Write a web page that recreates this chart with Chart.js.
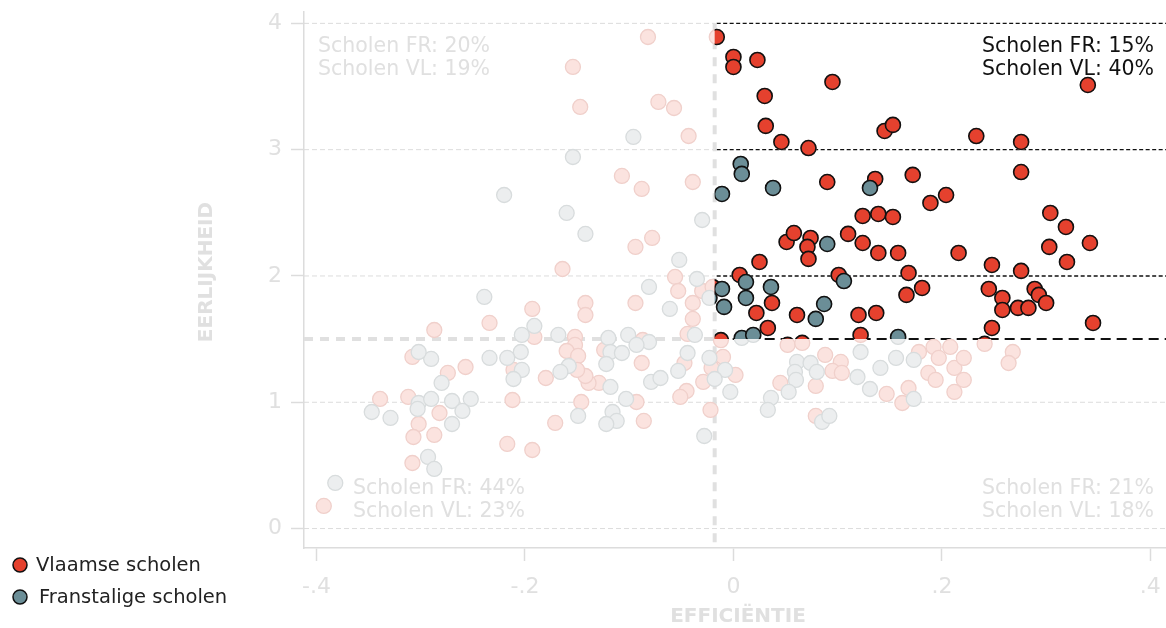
<!DOCTYPE html>
<html><head><meta charset="utf-8">
<script src="https://cdn.jsdelivr.net/npm/chart.js@4"></script>
<style>html,body{margin:0;padding:0;background:#fff;}#wrap{width:1166px;height:628px;position:relative;}</style>
</head><body><div id="wrap"><canvas id="c" width="1166" height="628"></canvas></div>
<script>
// ---- data (efficiëntie, eerlijkheid) ----
const vlaamsePoints = [
 [-0.016,3.892],[0.000,3.734],[0.000,3.655],[0.023,3.710],[0.030,3.425],[0.031,3.188],[0.046,3.061],[0.072,3.013],[0.095,3.536],[0.145,3.148],
 [0.153,3.196],[0.233,3.108],[0.276,3.061],[0.340,3.512],[0.276,2.823],[0.090,2.744],[0.136,2.768],[0.172,2.800],[0.189,2.578],[0.204,2.641],
 [0.304,2.499],[0.124,2.475],[0.139,2.491],[0.153,2.467],[0.319,2.388],[0.303,2.230],[0.342,2.261],[0.320,2.111],[0.051,2.269],[0.058,2.340],
 [0.074,2.301],[0.071,2.230],[0.072,2.135],[0.110,2.333],[0.124,2.261],[0.139,2.182],[0.158,2.182],[0.216,2.182],[0.025,2.111],[0.248,2.087],
 [0.276,2.040],[0.168,2.024],[0.006,2.008],[0.101,2.008],[0.037,1.786],[0.022,1.707],[0.061,1.691],[0.033,1.588],[0.120,1.691],[0.137,1.707],
 [0.166,1.850],[0.181,1.905],[0.245,1.897],[0.258,1.826],[0.258,1.731],[0.273,1.747],[0.283,1.747],[0.289,1.897],[0.293,1.850],[0.300,1.786],
 [0.248,1.588],[0.345,1.628],[0.122,1.533],[-0.012,1.492],
 [-0.082,3.892],[-0.154,3.655],[-0.147,3.338],[-0.072,3.378],[-0.057,3.330],[-0.043,3.108],[-0.107,2.792],[-0.088,2.689],[-0.039,2.744],[-0.094,2.230],
 [-0.078,2.301],[-0.164,2.055],[-0.056,1.992],[-0.053,1.881],[-0.030,1.881],[-0.020,1.913],[-0.142,1.786],[-0.142,1.691],[-0.094,1.786],[-0.039,1.786],
 [-0.039,1.660],[-0.193,1.739],[-0.234,1.628],[-0.287,1.572],[-0.191,1.517],[-0.152,1.517],[-0.087,1.493],[-0.044,1.541],
 [-0.152,1.454],[-0.160,1.406],[-0.149,1.367],[-0.124,1.414],[-0.088,1.311],[-0.047,1.311],[-0.021,1.272],[-0.029,1.161],[-0.045,1.089],[-0.051,1.042],
 [-0.093,1.002],[-0.129,1.153],[-0.139,1.153],[-0.142,1.208],[-0.150,1.256],[-0.180,1.192],[-0.211,1.256],[-0.257,1.279],[-0.274,1.232],[-0.308,1.359],
 [-0.212,1.018],[-0.146,1.002],[-0.339,1.026],[-0.312,1.042],[-0.282,0.915],[-0.302,0.828],[-0.307,0.725],[-0.287,0.741],[-0.308,0.519],[-0.217,0.670],
 [-0.193,0.622],[-0.171,0.836],[-0.086,0.852],[-0.022,0.939],[-0.393,0.179],
 [-0.010,1.359],[0.002,1.216],[0.052,1.454],[0.066,1.470],[0.088,1.375],[0.103,1.319],[0.095,1.248],[0.104,1.232],[0.045,1.153],[0.079,1.129],
 [0.079,0.892],[0.147,1.066],[0.162,0.994],[0.168,1.113],[0.178,1.398],[0.192,1.438],[0.197,1.351],[0.187,1.232],[0.194,1.177],[0.208,1.438],
 [0.212,1.272],[0.221,1.351],[0.212,1.082],[0.221,1.177],[0.241,1.462],[0.268,1.398],[0.264,1.311]
];
const franstaligePoints = [
 [-0.011,2.649],[0.007,2.887],[0.008,2.808],[0.038,2.697],[0.131,2.697],[0.090,2.253],[0.012,1.952],[0.106,1.960],[-0.011,1.897],[0.036,1.913],
 [0.012,1.826],[-0.009,1.755],[0.087,1.778],[0.079,1.660],[0.008,1.509],[0.019,1.533],[0.158,1.517],
 [-0.096,3.101],[-0.154,2.942],[-0.220,2.641],[-0.160,2.499],[-0.030,2.443],[-0.142,2.333],[-0.052,2.127],[-0.035,1.976],[-0.081,1.913],[-0.023,1.826],
 [-0.239,1.834],[-0.061,1.739],[-0.191,1.604],[-0.203,1.533],[-0.168,1.533],[-0.120,1.509],[-0.101,1.533],[-0.081,1.477],[-0.093,1.454],[-0.037,1.533],
 [-0.158,1.287],[-0.118,1.398],[-0.107,1.390],[-0.122,1.303],[-0.044,1.390],[-0.053,1.248],[-0.023,1.351],[-0.079,1.161],[-0.070,1.192],[-0.103,1.026],
 [-0.118,1.121],[-0.166,1.240],[-0.203,1.256],[-0.211,1.184],[-0.204,1.398],[-0.217,1.351],[-0.234,1.351],[-0.280,1.153],[-0.290,1.343],[-0.302,1.398],
 [-0.302,0.994],[-0.303,0.947],[-0.290,1.026],[-0.270,1.010],[-0.252,1.026],[-0.347,0.923],[-0.329,0.876],[-0.260,0.931],[-0.270,0.828],[-0.293,0.567],
 [-0.287,0.472],[-0.149,0.892],[-0.116,0.923],[-0.112,0.852],[-0.122,0.828],[-0.028,0.733],[-0.382,0.361],
 [-0.008,1.256],[-0.018,1.184],[-0.003,1.082],[0.061,1.319],[0.074,1.311],[0.080,1.240],[0.059,1.240],[0.060,1.177],[0.053,1.082],[0.036,1.034],
 [0.033,0.939],[0.085,0.844],[0.092,0.892],[0.122,1.398],[0.119,1.200],[0.141,1.272],[0.131,1.105],[0.156,1.351],[0.173,1.026],[0.173,1.335]
];
const seriesNames = ['Vlaamse scholen', 'Franstalige scholen'];
const xTickValues = [-0.4, -0.2, 0, 0.2, 0.4];
const xTickLabels = ['-.4', '-.2', '0', '.2', '.4'];
const yTickValues = [0, 1, 2, 3, 4];
const xThreshold = -0.018;
const yThreshold = 1.5;
const xTitle = 'EFFICIËNTIE';
const yTitle = 'EERLIJKHEID';
const shareFR = {tl: '20%', tr: '15%', bl: '44%', br: '21%'};
const shareVL = {tl: '19%', tr: '40%', bl: '23%', br: '18%'};

// ---- styling ----
const FONT = '"DejaVu Sans", Verdana, sans-serif';
const LIGHT = '#e0e0e0';
const RED = '#e5412e', BLUE = '#6b8e97';
const RED_F = '#fbe3df', RED_FB = '#f0d0cb';
const BLUE_F = '#eceeef', BLUE_FB = '#d8dcdd';

const toXY = pts => pts.map(p => ({x: p[0], y: p[1]}));

const linesPlugin = {
  id: 'quadLines',
  beforeDatasetsDraw(chart) {
    const {ctx, chartArea: {left, right, top, bottom}, scales: {x, y}} = chart;
    const xv = x.getPixelForValue(xThreshold), yh = y.getPixelForValue(yThreshold);
    ctx.save();
    yTickValues.forEach(v => {
      const py = y.getPixelForValue(v);
      const inQuad = v > yThreshold;
      ctx.setLineDash([5, 3]); ctx.lineWidth = 1; ctx.strokeStyle = '#dcdcdc';
      ctx.beginPath(); ctx.moveTo(left, py); ctx.lineTo(inQuad ? xv : right, py); ctx.stroke();
      if (inQuad) {
        ctx.setLineDash([4, 2.5]); ctx.lineWidth = 1.4; ctx.strokeStyle = '#111';
        ctx.beginPath(); ctx.moveTo(xv + 2, py); ctx.lineTo(right, py); ctx.stroke();
      }
    });
    // horizontal threshold
    ctx.setLineDash([9, 7]); ctx.lineWidth = 4; ctx.strokeStyle = LIGHT;
    ctx.beginPath(); ctx.moveTo(left, yh); ctx.lineTo(xv, yh); ctx.stroke();
    ctx.setLineDash([10, 6]); ctx.lineWidth = 2; ctx.strokeStyle = '#111';
    ctx.beginPath(); ctx.moveTo(xv + 2, yh); ctx.lineTo(right, yh); ctx.stroke();
    // vertical threshold
    ctx.setLineDash([9, 8]); ctx.lineWidth = 4; ctx.strokeStyle = LIGHT;
    ctx.beginPath(); ctx.moveTo(xv, y.getPixelForValue(4)); ctx.lineTo(xv, bottom); ctx.stroke();
    ctx.restore();
  }
};

const clipPlugin = {
  id: 'quadClip',
  beforeDatasetDraw(chart, args) {
    const ds = chart.data.datasets[args.index];
    if (!ds.highlight) return;
    const {ctx, chartArea, scales: {x, y}} = chart;
    const x0 = x.getPixelForValue(xThreshold), y0 = y.getPixelForValue(yThreshold);
    ctx.save();
    ctx.beginPath();
    ctx.rect(x0, chartArea.top - 30, chartArea.right - x0 + 30, y0 - chartArea.top + 30);
    ctx.clip();
  },
  afterDatasetDraw(chart, args) {
    if (chart.data.datasets[args.index].highlight) chart.ctx.restore();
  }
};

const textPlugin = {
  id: 'texts',
  afterDraw(chart) {
    const {ctx, chartArea: {left, right}, scales: {x, y}} = chart;
    const y4 = y.getPixelForValue(4), y0 = y.getPixelForValue(0);
    ctx.save();
    ctx.font = '20.5px ' + FONT;
    ctx.textBaseline = 'middle';
    ctx.fillStyle = LIGHT; ctx.textAlign = 'left';
    ctx.fillText('Scholen FR: ' + shareFR.tl, left + 14, y4 + 23);
    ctx.fillText('Scholen VL: ' + shareVL.tl, left + 14, y4 + 46);
    ctx.fillText('Scholen FR: ' + shareFR.bl, left + 49, y0 - 40);
    ctx.fillText('Scholen VL: ' + shareVL.bl, left + 49, y0 - 17);
    ctx.textAlign = 'right';
    ctx.fillText('Scholen FR: ' + shareFR.br, right - 12, y0 - 40);
    ctx.fillText('Scholen VL: ' + shareVL.br, right - 12, y0 - 17);
    ctx.fillStyle = '#111';
    ctx.fillText('Scholen FR: ' + shareFR.tr, right - 12, y4 + 23);
    ctx.fillText('Scholen VL: ' + shareVL.tr, right - 12, y4 + 46);
    // axis titles
    ctx.fillStyle = LIGHT; ctx.textAlign = 'center';
    ctx.font = 'bold 20px ' + FONT;
    ctx.fillText(xTitle, 738, 617);
    ctx.save(); ctx.translate(207, 272); ctx.rotate(-Math.PI / 2);
    ctx.fillText(yTitle, 0, 0); ctx.restore();
    // legend
    const cols = [RED, BLUE];
    ctx.font = '19.5px ' + FONT; ctx.textAlign = 'left';
    seriesNames.forEach((name, i) => {
      const cy = 565 + i * 32;
      ctx.beginPath(); ctx.arc(20, cy, 7, 0, Math.PI * 2);
      ctx.fillStyle = cols[i]; ctx.fill();
      ctx.lineWidth = 1.5; ctx.strokeStyle = '#111'; ctx.stroke();
      ctx.fillStyle = '#222';
      ctx.fillText(name, 36 + i * 3, cy + 1);
    });
    ctx.restore();
  }
};

Chart.defaults.font.family = FONT;

new Chart(document.getElementById('c'), {
  type: 'scatter',
  data: {
    datasets: [
      {label: seriesNames[1], data: toXY(franstaligePoints), highlight: true, order: 0,
       backgroundColor: BLUE, borderColor: '#111', borderWidth: 1.6, pointRadius: 7.5, clip: false},
      {label: seriesNames[0], data: toXY(vlaamsePoints), highlight: true, order: 1,
       backgroundColor: RED, borderColor: '#111', borderWidth: 1.6, pointRadius: 7.5, clip: false},
      {label: seriesNames[1] + ' (overig)', data: toXY(franstaligePoints), order: 2,
       backgroundColor: BLUE_F, borderColor: BLUE_FB, borderWidth: 1.3, pointRadius: 7.5, clip: false},
      {label: seriesNames[0] + ' (overig)', data: toXY(vlaamsePoints), order: 3,
       backgroundColor: RED_F, borderColor: RED_FB, borderWidth: 1.3, pointRadius: 7.5, clip: false}
    ]
  },
  options: {
    responsive: false, animation: false, devicePixelRatio: 1,
    layout: {autoPadding: false, padding: {top: 12, left: 0, right: 0, bottom: 0}},
    plugins: {legend: {display: false}, tooltip: {enabled: false}},
    events: [],
    scales: {
      x: {
        type: 'linear', min: -0.412, max: 0.415,
        afterBuildTicks: s => { s.ticks = xTickValues.map(v => ({value: v})); },
        afterFit: s => { s.height = 80; s.paddingLeft = 0; s.paddingRight = 0; },
        ticks: {callback: v => xTickLabels[xTickValues.indexOf(v)], font: {size: 22}, color: LIGHT, padding: 13, maxRotation: 0},
        grid: {drawOnChartArea: false, drawTicks: true, tickLength: 13, tickColor: '#dcdcdc', tickWidth: 1.5},
        border: {display: true, color: '#dcdcdc', width: 1.5}
      },
      y: {
        type: 'linear', min: -0.154, max: 4.09,
        afterBuildTicks: s => { s.ticks = yTickValues.map(v => ({value: v})); },
        afterFit: s => { s.width = 304; s.paddingTop = 0; s.paddingBottom = 0; },
        ticks: {callback: v => String(v), font: {size: 22}, color: LIGHT, padding: 9},
        grid: {drawOnChartArea: false, drawTicks: true, tickLength: 13, tickColor: '#dcdcdc', tickWidth: 1.5},
        border: {display: true, color: '#dcdcdc', width: 1.5}
      }
    }
  },
  plugins: [linesPlugin, clipPlugin, textPlugin]
});
</script></body></html>
